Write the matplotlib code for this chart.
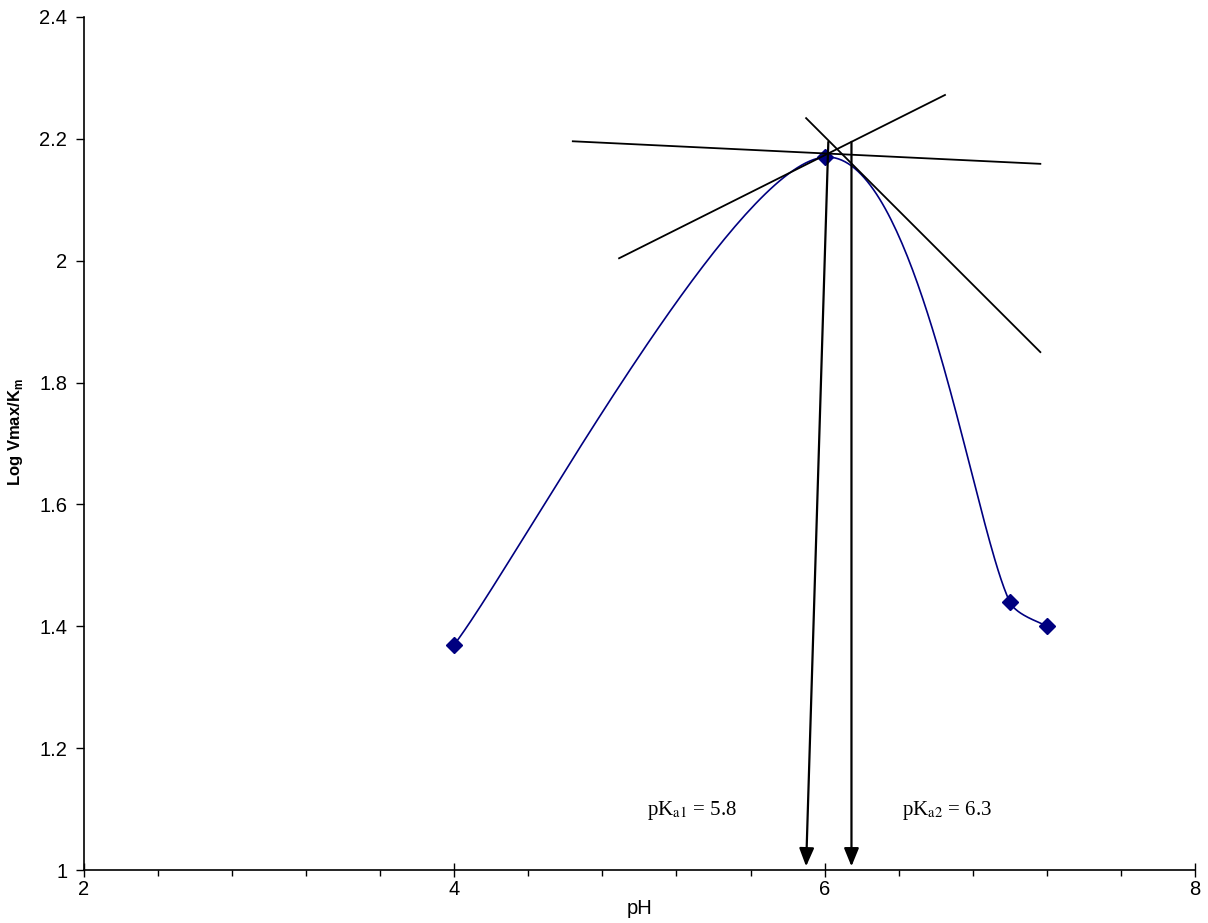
import numpy as np
from matplotlib import pyplot as plt

plt.rcParams['font.family'] = ['Liberation Sans', 'DejaVu Sans']
plt.rcParams['mathtext.fontset'] = 'custom'
plt.rcParams['mathtext.rm'] = 'Liberation Sans'
plt.rcParams['mathtext.bf'] = 'Liberation Sans:bold'

# data points
ph = [4.0, 6.0, 7.0, 7.2]
log_vk = [1.37, 2.17, 1.44, 1.40]

# tangent lines drawn by hand (start/end points)
tan_x = [[4.64, 7.165], [4.89, 6.65], [5.90, 7.165]]
tan_y = [[2.196, 2.159], [2.004, 2.272], [2.234, 1.850]]

# arrows down to the pKa values
arrow_top_x = [6.02, 6.145]
arrow_bot_x = [5.90, 6.145]
arrow_top_y = 2.195
arrow_bot_y = 1.006

pk_labels = ['pK$_{\\mathrm{a1}}$ = 5.8', 'pK$_{\\mathrm{a2}}$ = 6.3']
pk_x = [5.04, 6.42]
pk_y = 1.097

# pixels per data unit, so the smoothing works like excel's (screen space)
SX, SY = 185.3, 609.3


def smooth(xs, ys, n=80):
    # excel-like smoothed line: cubic bezier, catmull-rom controls,
    # control arms limited to a third of the segment length
    pts = np.column_stack([np.array(xs) * SX, np.array(ys) * SY])
    p = np.vstack([pts[0], pts, pts[-1]])
    out = []
    for i in range(1, len(p) - 2):
        p0, p1, p2, p3 = p[i - 1], p[i], p[i + 1], p[i + 2]
        seg = np.linalg.norm(p2 - p1)
        d1 = (p2 - p0) / 6
        d2 = (p3 - p1) / 6
        if np.linalg.norm(d1) > seg / 3:
            d1 = d1 / np.linalg.norm(d1) * seg / 3
        if np.linalg.norm(d2) > seg / 3:
            d2 = d2 / np.linalg.norm(d2) * seg / 3
        c1 = p1 + d1
        c2 = p2 - d2
        t = np.linspace(0, 1, n)[:, None]
        out.append((1 - t) ** 3 * p1 + 3 * (1 - t) ** 2 * t * c1
                   + 3 * (1 - t) * t ** 2 * c2 + t ** 3 * p2)
    out = np.vstack(out)
    return out[:, 0] / SX, out[:, 1] / SY


fig = plt.figure(figsize=(12.08, 9.23), dpi=100)
ax = fig.add_axes([0.0695, 0.0574, 0.9197, 0.9242])

sx, sy = smooth(ph, log_vk)
ax.plot(sx, sy, color='#000080', lw=1.2)
ax.plot(ph, log_vk, linestyle='none', marker='D', markersize=8, color='#000080')

for x, y in zip(tan_x, tan_y):
    ax.plot(x, y, color='black', lw=1.3)

for xt, xb in zip(arrow_top_x, arrow_bot_x):
    ax.annotate('', xy=(xb, arrow_bot_y), xytext=(xt, arrow_top_y),
                arrowprops=dict(arrowstyle='-|>,head_length=1.1,head_width=0.45',
                                color='black', lw=1.6, shrinkA=0, shrinkB=0))

for lab, x in zip(pk_labels, pk_x):
    ax.text(x, pk_y, lab, fontsize=15, family='Liberation Serif',
            math_fontfamily='stix', va='center', ha='left')

ax.set_xlim(2, 8)
ax.set_ylim(1, 2.4)
ax.set_xticks([2, 4, 6, 8])
ax.set_xticks(np.arange(2, 8.01, 0.4), minor=True)
ax.set_yticks([1, 1.2, 1.4, 1.6, 1.8, 2, 2.2, 2.4])
ax.set_yticklabels(['1', '1.2', '1.4', '1.6', '1.8', '2', '2.2', '2.4'])
ax.spines['top'].set_visible(False)
ax.spines['right'].set_visible(False)
ax.spines['left'].set_linewidth(1.2)
ax.spines['bottom'].set_linewidth(1.2)
ax.tick_params(axis='both', which='major', labelsize=14.5, length=6, width=1,
               direction='out', pad=6)
ax.tick_params(axis='x', which='major', direction='inout', length=10, pad=2)
ax.tick_params(axis='x', which='minor', direction='out', length=4, width=1)

ax.set_xlabel('pH', fontsize=14.5, labelpad=0)
ax.set_ylabel('Log Vmax/K$_\\mathbf{m}$', fontsize=12, fontweight='bold')
ax.yaxis.set_label_coords(-0.053, 0.513)

plt.savefig('out.png', dpi=100)
